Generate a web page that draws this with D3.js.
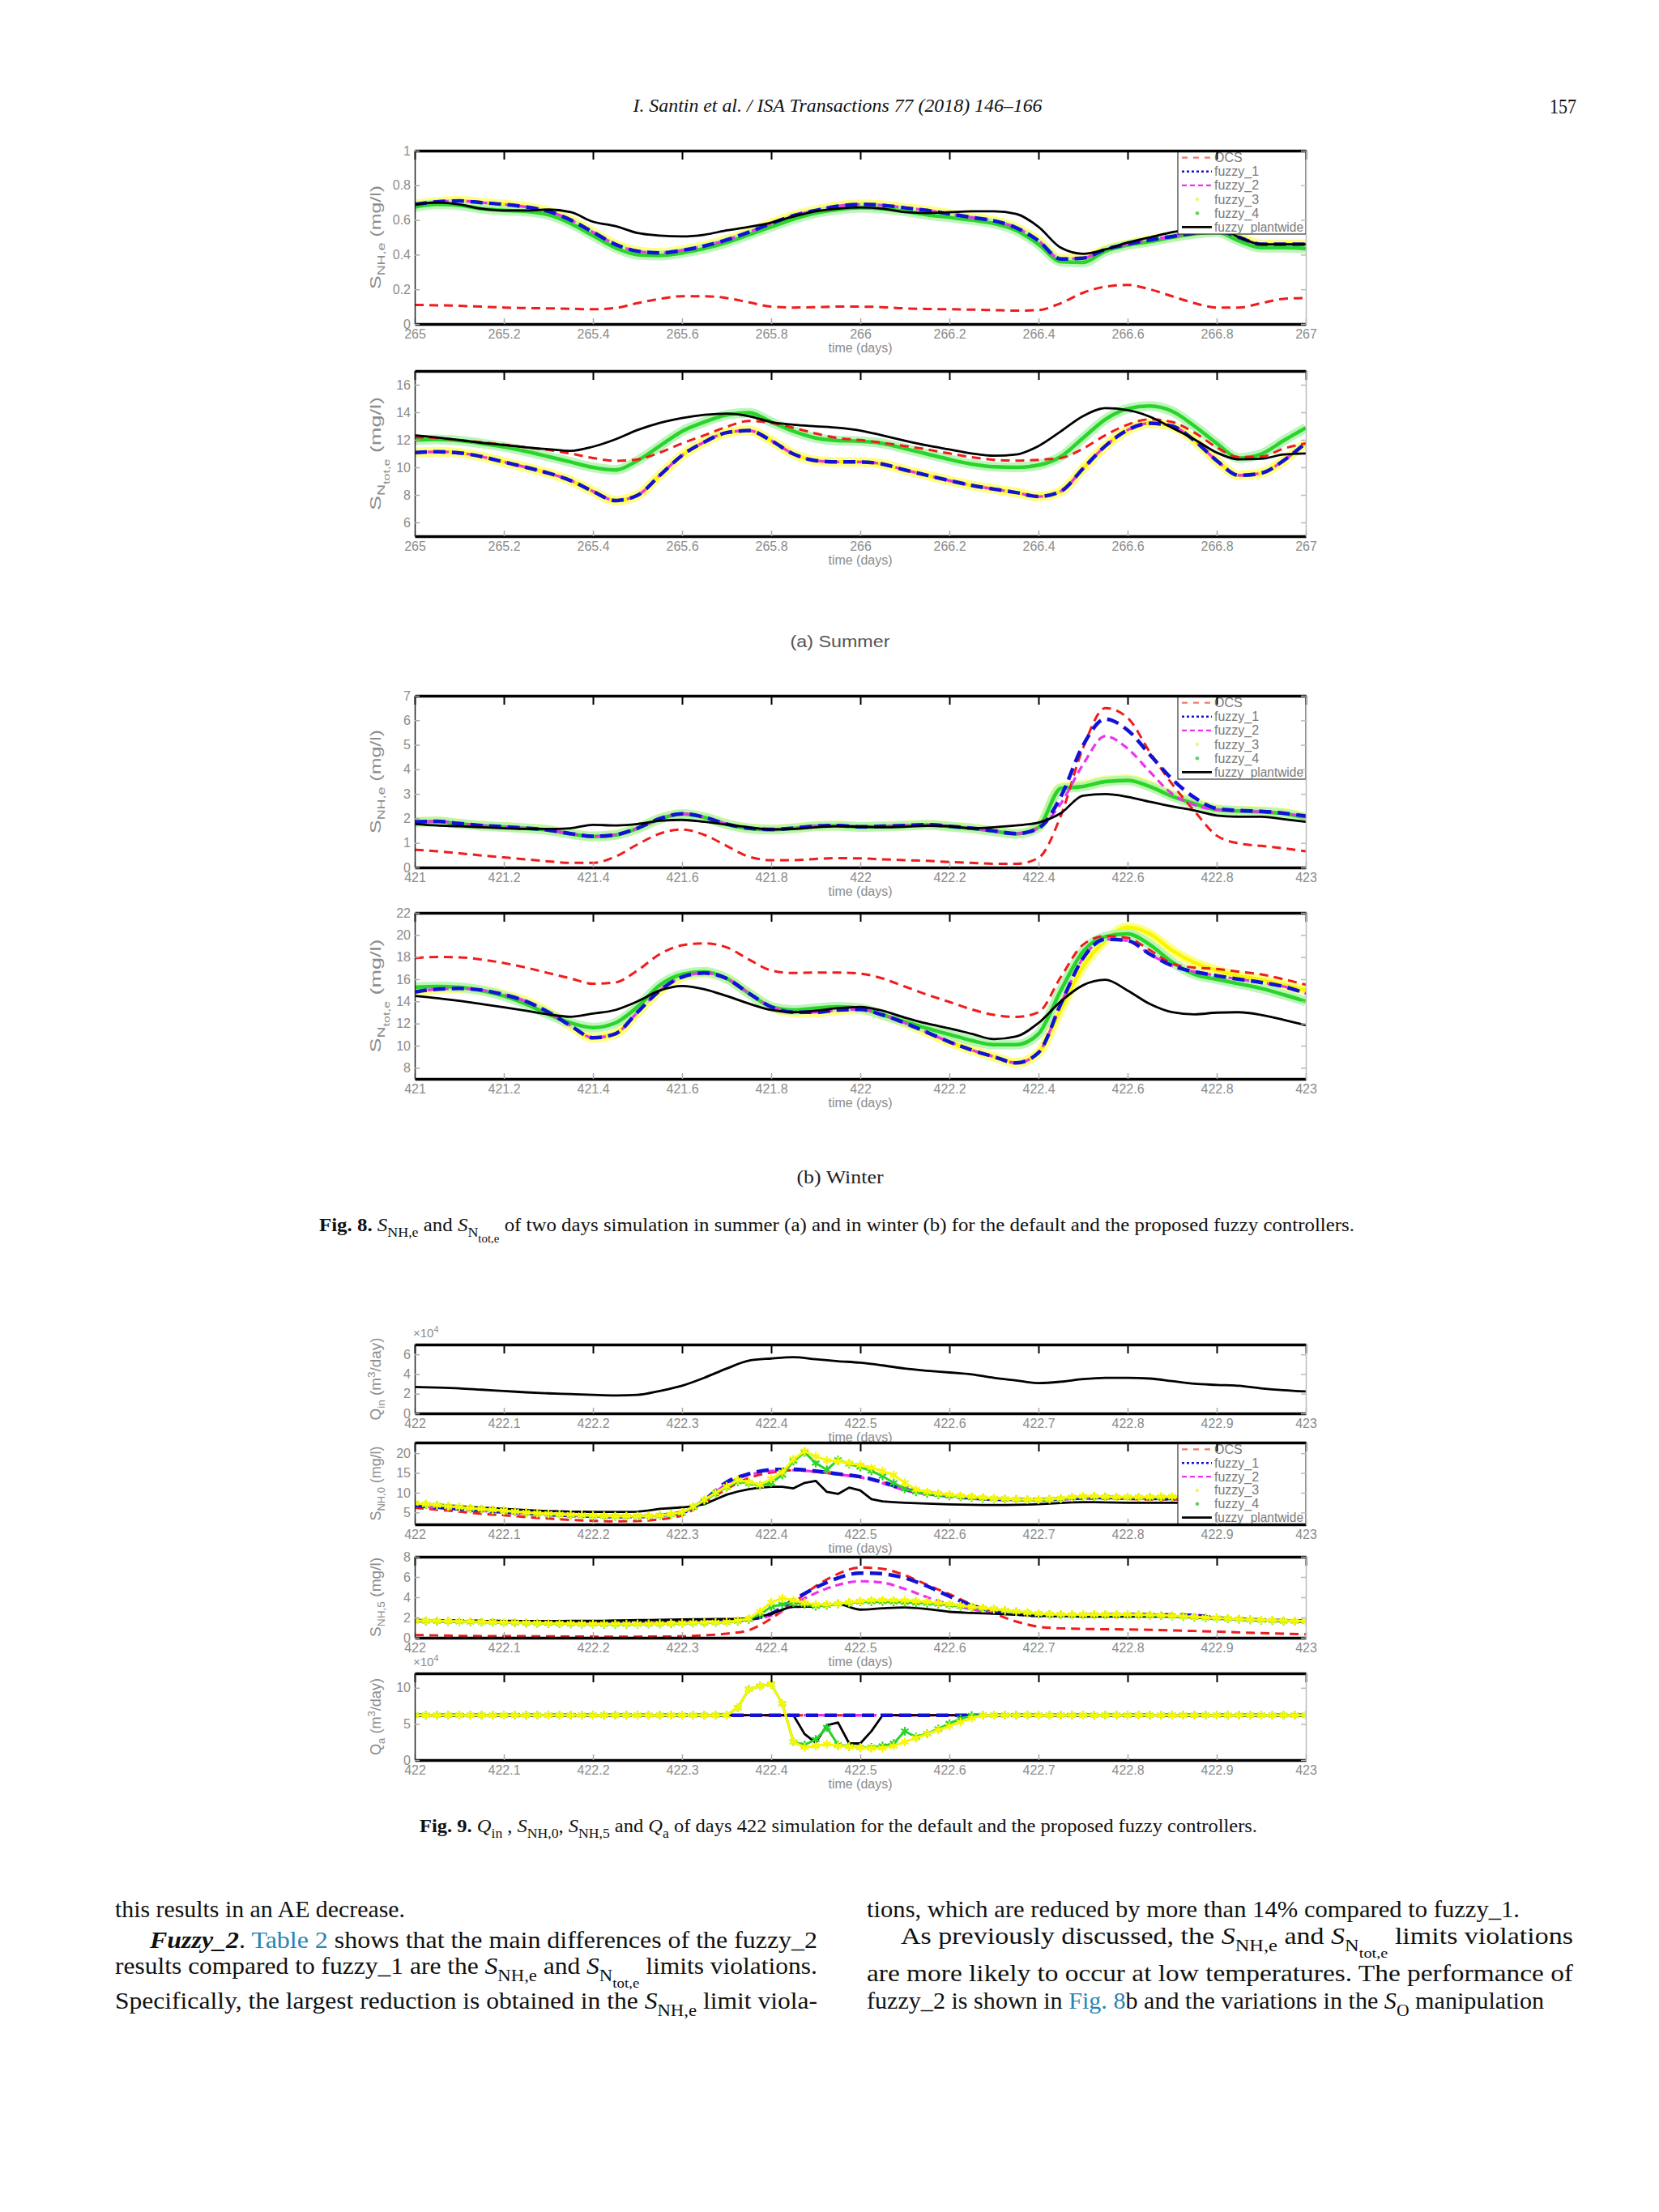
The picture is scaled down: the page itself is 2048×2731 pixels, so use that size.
<!DOCTYPE html>
<html>
<head>
<meta charset="utf-8">
<script src="https://cdn.jsdelivr.net/npm/d3@7"></script>
<style>
body { margin: 0; background: #fff; }
</style>
</head>
<body>
<svg id="page" width="2048" height="2731"></svg>
<script>
// ---------- data ----------
var legendLabels = ["OCS", "fuzzy_1", "fuzzy_2", "fuzzy_3", "fuzzy_4", "fuzzy_plantwide"];
var seriesKeys = ["ocs", "f1", "f2", "f3", "f4", "pw"];

// Fig 8 (a) summer, days 265-267
var tSum = [265,265.05,265.1,265.15,265.2,265.25,265.3,265.35,265.4,265.45,265.5,265.55,265.6,265.65,265.7,265.75,265.8,265.85,265.9,265.95,266,266.05,266.1,266.15,266.2,266.25,266.3,266.35,266.4,266.45,266.5,266.55,266.6,266.65,266.7,266.75,266.8,266.85,266.9,266.95,267];
var xTicksSum = [265,265.2,265.4,265.6,265.8,266,266.2,266.4,266.6,266.8,267];

var nhSumOcs = [0.11,0.108,0.105,0.10,0.095,0.092,0.09,0.088,0.085,0.092,0.12,0.145,0.16,0.16,0.15,0.125,0.10,0.095,0.097,0.10,0.10,0.097,0.09,0.087,0.085,0.083,0.08,0.077,0.08,0.12,0.18,0.215,0.225,0.2,0.16,0.12,0.095,0.095,0.12,0.145,0.15];
var nhSumF1 = [0.69,0.705,0.71,0.70,0.69,0.675,0.65,0.60,0.53,0.46,0.42,0.41,0.425,0.45,0.485,0.53,0.58,0.625,0.655,0.68,0.69,0.685,0.67,0.655,0.635,0.615,0.595,0.555,0.48,0.375,0.38,0.43,0.46,0.485,0.505,0.525,0.54,0.50,0.46,0.46,0.46];
var nhSumF2 = [0.69,0.705,0.71,0.70,0.69,0.675,0.65,0.60,0.53,0.46,0.42,0.41,0.425,0.45,0.485,0.53,0.58,0.625,0.655,0.68,0.69,0.685,0.67,0.655,0.635,0.615,0.595,0.555,0.48,0.375,0.38,0.43,0.46,0.485,0.505,0.525,0.54,0.50,0.46,0.46,0.46];
var nhSumF3 = [0.69,0.705,0.71,0.70,0.69,0.675,0.65,0.60,0.53,0.46,0.42,0.41,0.425,0.45,0.485,0.53,0.58,0.625,0.655,0.68,0.69,0.685,0.67,0.655,0.635,0.615,0.595,0.555,0.48,0.375,0.38,0.43,0.46,0.485,0.505,0.525,0.54,0.50,0.46,0.46,0.46];
var nhSumF4 = [0.675,0.69,0.685,0.665,0.655,0.65,0.63,0.58,0.51,0.44,0.40,0.395,0.41,0.435,0.47,0.515,0.56,0.605,0.64,0.66,0.67,0.665,0.65,0.63,0.615,0.60,0.58,0.54,0.46,0.36,0.355,0.42,0.455,0.475,0.50,0.52,0.53,0.48,0.44,0.44,0.435];
var nhSumPw = [0.69,0.70,0.69,0.665,0.655,0.655,0.66,0.645,0.59,0.565,0.525,0.51,0.505,0.515,0.54,0.56,0.585,0.62,0.65,0.665,0.672,0.665,0.645,0.64,0.645,0.65,0.65,0.635,0.56,0.44,0.405,0.43,0.47,0.50,0.53,0.55,0.56,0.50,0.46,0.46,0.46];

var ntSumOcs = [12.19,12.13,11.98,11.82,11.65,11.45,11.26,11.0,10.68,10.47,10.58,11.07,11.74,12.33,12.94,13.37,13.23,12.87,12.46,12.13,11.98,11.78,11.55,11.30,11.01,10.74,10.55,10.49,10.55,10.68,11.36,12.33,13.1,13.49,13.29,12.52,11.45,10.74,10.78,11.36,11.74];
var ntSumF1 = [11.07,11.13,11.05,10.78,10.39,10.0,9.58,9.04,8.26,7.59,7.97,9.42,10.87,11.84,12.52,12.67,11.94,10.97,10.49,10.39,10.39,10.24,9.81,9.42,9.04,8.69,8.42,8.17,7.88,8.26,9.91,11.55,12.71,13.2,13.0,11.94,10.49,9.42,9.58,10.49,11.78];
var ntSumF2 = [11.07,11.13,11.05,10.78,10.39,10.0,9.58,9.04,8.26,7.59,7.97,9.42,10.87,11.84,12.52,12.67,11.94,10.97,10.49,10.39,10.39,10.24,9.81,9.42,9.04,8.69,8.42,8.17,7.88,8.26,9.91,11.55,12.71,13.2,13.0,11.94,10.49,9.42,9.58,10.49,11.78];
var ntSumF3 = [11.07,11.13,11.05,10.78,10.39,10.0,9.58,9.04,8.26,7.59,7.97,9.42,10.87,11.84,12.52,12.67,11.94,10.97,10.49,10.39,10.39,10.24,9.81,9.42,9.04,8.69,8.42,8.17,7.88,8.26,9.91,11.55,12.71,13.2,13.0,11.94,10.49,9.42,9.58,10.49,11.78];
var ntSumF4 = [11.98,12.03,11.94,11.74,11.49,11.16,10.78,10.39,10.0,9.81,10.49,11.55,12.62,13.29,13.81,13.97,13.29,12.62,12.13,11.94,11.9,11.74,11.36,10.97,10.58,10.24,10.04,10.0,10.16,10.78,12.13,13.48,14.26,14.45,14.07,13.0,11.74,10.68,10.97,11.94,12.87];
var ntSumPw = [12.33,12.17,11.98,11.78,11.63,11.45,11.32,11.2,11.5,12.03,12.71,13.23,13.58,13.81,13.91,13.72,13.29,13.1,12.98,12.87,12.67,12.32,11.94,11.59,11.30,11.01,10.84,10.93,11.55,12.61,13.72,14.3,14.16,13.68,12.87,12.03,11.07,10.58,10.62,10.93,11.01];

// Fig 8 (b) winter, days 421-423
var tWin = [421,421.05,421.1,421.15,421.2,421.25,421.3,421.35,421.4,421.45,421.5,421.55,421.6,421.65,421.7,421.75,421.8,421.85,421.9,421.95,422,422.05,422.1,422.15,422.2,422.25,422.3,422.35,422.4,422.45,422.5,422.55,422.6,422.65,422.7,422.75,422.8,422.85,422.9,422.95,423];
var xTicksWin = [421,421.2,421.4,421.6,421.8,422,422.2,422.4,422.6,422.8,423];

var nhWinOcs = [0.72,0.66,0.58,0.49,0.41,0.33,0.25,0.19,0.19,0.44,0.94,1.38,1.55,1.33,0.88,0.44,0.30,0.30,0.35,0.38,0.37,0.33,0.30,0.27,0.22,0.19,0.15,0.15,0.39,2.10,4.87,6.5,6.1,4.7,3.4,2.3,1.3,0.98,0.88,0.78,0.66];
var nhWinF1 = [1.86,1.88,1.79,1.71,1.66,1.60,1.53,1.38,1.27,1.33,1.60,1.99,2.19,2.05,1.77,1.60,1.55,1.60,1.69,1.71,1.66,1.68,1.71,1.74,1.68,1.60,1.49,1.38,1.60,2.88,4.98,6.05,5.6,4.6,3.6,2.85,2.4,2.32,2.29,2.21,2.10];
var nhWinF2 = [1.86,1.88,1.79,1.71,1.66,1.60,1.53,1.38,1.27,1.33,1.60,1.99,2.19,2.05,1.77,1.60,1.55,1.60,1.69,1.71,1.66,1.68,1.71,1.74,1.68,1.60,1.49,1.38,1.60,2.6,4.2,5.35,4.85,3.9,3.0,2.55,2.35,2.3,2.27,2.2,2.08];
var nhWinF3 = [1.86,1.88,1.79,1.71,1.66,1.60,1.53,1.38,1.27,1.33,1.60,1.99,2.19,2.05,1.77,1.60,1.55,1.60,1.69,1.71,1.66,1.68,1.71,1.74,1.68,1.60,1.49,1.38,1.66,3.26,3.35,3.55,3.6,3.35,2.95,2.65,2.38,2.32,2.29,2.23,2.05];
var nhWinF4 = [1.85,1.87,1.78,1.70,1.65,1.59,1.52,1.37,1.26,1.32,1.59,1.98,2.18,2.04,1.76,1.59,1.54,1.59,1.68,1.70,1.65,1.67,1.70,1.73,1.67,1.59,1.48,1.37,1.64,3.22,3.3,3.5,3.55,3.3,2.9,2.6,2.35,2.3,2.27,2.2,2.02];
var nhWinPw = [1.77,1.71,1.68,1.64,1.60,1.57,1.57,1.60,1.74,1.71,1.77,1.90,1.94,1.86,1.75,1.64,1.55,1.57,1.64,1.68,1.66,1.64,1.66,1.70,1.68,1.60,1.64,1.71,1.83,2.21,2.93,2.99,2.88,2.68,2.49,2.32,2.12,2.07,2.07,1.97,1.86];

var ntWinOcs = [17.90,18.02,17.98,17.78,17.46,17.05,16.56,16.07,15.59,15.71,16.80,18.27,19.07,19.24,18.88,17.78,16.80,16.56,16.61,16.61,16.51,16.07,15.34,14.61,13.95,13.27,12.78,12.59,13.02,16.2,19.12,19.90,19.73,18.63,17.41,17.05,16.93,16.68,16.44,16.0,15.51];
var ntWinF1 = [14.85,15.10,15.17,15.02,14.61,14.0,13.02,11.80,10.71,11.07,13.02,14.98,16.2,16.56,16.07,14.73,13.51,13.02,13.02,13.22,13.27,12.78,12.05,11.20,10.34,9.61,9.0,8.44,9.37,13.76,17.9,19.61,19.49,18.27,17.22,16.68,16.32,16.0,15.71,15.34,14.73];
var ntWinF2 = [14.85,15.10,15.17,15.02,14.61,14.0,13.02,11.80,10.71,11.07,13.02,14.98,16.2,16.56,16.07,14.73,13.51,13.02,13.02,13.22,13.27,12.78,12.05,11.20,10.34,9.61,9.0,8.44,9.37,13.76,17.9,19.61,19.49,18.27,17.22,16.68,16.32,16.0,15.71,15.34,14.73];
var ntWinF3 = [14.85,15.10,15.17,15.02,14.61,14.0,13.02,11.80,10.71,11.07,13.02,14.98,16.2,16.56,16.07,14.73,13.51,13.02,13.02,13.22,13.27,12.78,12.05,11.20,10.34,9.61,9.0,8.44,9.37,13.27,17.17,19.49,20.71,20.1,18.6,17.5,16.8,16.3,15.95,15.5,15.0];
var ntWinF4 = [15.27,15.34,15.27,14.98,14.49,13.76,12.83,12.05,11.63,12.05,13.51,15.46,16.44,16.68,16.07,14.73,13.51,13.22,13.39,13.51,13.39,12.78,12.17,11.56,11.02,10.46,10.10,10.10,11.07,14.98,18.51,19.85,20.10,19.12,17.54,16.44,16.0,15.59,15.17,14.61,14.0];
var ntWinPw = [14.49,14.29,14.05,13.76,13.46,13.15,12.83,12.61,12.9,13.22,14.0,14.98,15.39,15.10,14.49,13.80,13.22,13.02,13.15,13.39,13.51,13.15,12.54,12.0,11.56,11.07,10.59,10.83,12.05,14.0,15.46,15.95,14.98,13.76,13.02,12.83,12.98,13.02,12.78,12.34,11.85];

// Fig 9, day 422 (coarse grid for smooth curves, fine grid for marker series)
var tDay = [422,422.025,422.05,422.075,422.1,422.125,422.15,422.175,422.2,422.225,422.25,422.275,422.3,422.325,422.35,422.375,422.4,422.425,422.45,422.475,422.5,422.525,422.55,422.575,422.6,422.625,422.65,422.675,422.7,422.725,422.75,422.775,422.8,422.825,422.85,422.875,422.9,422.925,422.95,422.975,423];
var tFine = [422,422.0125,422.025,422.0375,422.05,422.0625,422.075,422.0875,422.1,422.1125,422.125,422.1375,422.15,422.1625,422.175,422.1875,422.2,422.2125,422.225,422.2375,422.25,422.2625,422.275,422.2875,422.3,422.3125,422.325,422.3375,422.35,422.3625,422.375,422.3875,422.4,422.4125,422.425,422.4375,422.45,422.4625,422.475,422.4875,422.5,422.5125,422.525,422.5375,422.55,422.5625,422.575,422.5875,422.6,422.6125,422.625,422.6375,422.65,422.6625,422.675,422.6875,422.7,422.7125,422.725,422.7375,422.75,422.7625,422.775,422.7875,422.8,422.8125,422.825,422.8375,422.85,422.8625,422.875,422.8875,422.9,422.9125,422.925,422.9375,422.95,422.9625,422.975,422.9875,423];
var xTicksDay = [422,422.1,422.2,422.3,422.4,422.5,422.6,422.7,422.8,422.9,423];

var qinPw = [2.68,2.63,2.55,2.41,2.28,2.14,2.04,1.96,1.88,1.82,1.88,2.28,2.81,3.62,4.56,5.36,5.58,5.71,5.50,5.31,5.15,4.88,4.56,4.34,4.16,3.97,3.62,3.35,3.08,3.22,3.49,3.62,3.62,3.54,3.28,3.01,2.90,2.81,2.55,2.36,2.23];

var nh0Ocs = [6.19,5.7,5.22,4.66,4.31,3.82,3.47,3.12,2.92,2.78,2.85,3.26,4.31,7.45,10.93,13.72,15.12,15.68,15.26,14.63,13.93,12.68,11.28,10.24,9.40,8.84,8.49,8.28,8.14,8.28,8.49,8.49,8.42,8.3,8.28,8.2,8.2,8.15,8.15,8.15,8.14];
var nh0F1 = [6.75,6.33,5.91,5.5,5.15,4.8,4.45,4.24,4.1,3.96,3.96,4.31,5.0,8.14,12.68,14.77,15.82,15.96,15.47,14.77,14.07,12.68,10.93,9.89,9.19,8.70,8.42,8.28,8.28,8.42,8.7,8.84,8.7,8.6,8.56,8.5,8.5,8.5,8.5,8.5,8.5];
var nh0F2 = [6.6,6.2,5.8,5.4,5.05,4.7,4.4,4.2,4.05,3.95,3.95,4.3,5.0,8.0,12.2,14.5,15.5,15.7,15.3,14.6,13.9,12.4,10.6,9.6,8.95,8.5,8.25,8.15,8.15,8.3,8.55,8.7,8.6,8.5,8.45,8.4,8.4,8.4,8.4,8.4,8.4];
var nh0F3 = [7.4,7.1,6.9,6.6,6.4,6.1,5.9,5.7,5.5,5.25,5.0,4.85,4.7,4.55,4.45,4.35,4.25,4.15,4.1,4.1,4.1,4.15,4.3,4.6,5.0,6.5,8.2,10.0,11.6,13.2,12.7,12.0,13.5,15.2,18.5,20.5,19.2,18.2,18.0,17.5,17.0,16.3,15.5,14.5,12.5,10.8,10.2,9.8,9.5,9.2,9.0,8.8,8.6,8.5,8.4,8.3,8.3,8.4,8.6,8.9,9.1,9.1,9.0,8.9,8.9,8.9,8.9,9.0,9.0,9.0,9.0,8.9,8.9,8.9,8.8,8.8,8.7,8.6,8.4,8.0,7.5];
var nh0F4 = [7.3,7.0,6.8,6.5,6.3,6.0,5.8,5.6,5.4,5.15,4.9,4.75,4.6,4.45,4.35,4.25,4.15,4.05,4.0,4.0,4.0,4.05,4.2,4.5,4.9,6.3,8.0,9.8,11.4,12.8,12.4,11.8,12.5,14.5,18.0,20.2,17.5,15.8,18.3,17.3,16.5,15.5,14.2,12.5,11.0,10.2,9.8,9.5,9.2,9.0,8.8,8.6,8.5,8.4,8.3,8.2,8.2,8.3,8.5,8.8,9.0,9.0,8.9,8.8,8.8,8.8,8.8,8.8,8.9,8.9,8.9,8.8,8.8,8.8,8.7,8.7,8.6,8.5,8.3,7.9,7.4];
var nh0Pw = [7.3,7.15,7.0,6.8,6.6,6.4,6.2,6.05,5.9,5.75,5.6,5.45,5.35,5.3,5.22,5.18,5.15,5.15,5.15,5.17,5.2,5.5,5.9,6.1,6.3,6.6,7.1,8.3,9.5,10.3,10.9,11.3,11.5,11.5,11.1,12.5,13.0,10.2,9.7,11.3,10.6,8.4,7.8,7.6,7.45,7.35,7.25,7.15,7.05,7.0,6.95,6.9,6.9,6.9,6.95,7.0,7.1,7.25,7.4,7.55,7.6,7.6,7.55,7.5,7.45,7.45,7.45,7.45,7.45,7.45,7.45,7.45,7.45,7.45,7.45,7.45,7.45,7.45,7.45,7.45,7.45];

var nh5Ocs = [0.27,0.23,0.19,0.17,0.16,0.15,0.14,0.12,0.11,0.11,0.11,0.12,0.14,0.24,0.4,0.75,1.9,3.46,5.09,6.31,6.94,6.8,6.18,5.22,4.3,3.3,2.4,1.6,1.09,0.93,0.87,0.84,0.82,0.78,0.73,0.67,0.6,0.53,0.46,0.4,0.33];
var nh5F1 = [1.69,1.67,1.65,1.62,1.6,1.58,1.55,1.55,1.55,1.56,1.58,1.6,1.63,1.66,1.69,1.82,2.37,3.73,4.95,5.9,6.39,6.31,5.9,5.1,4.1,3.2,2.6,2.35,2.2,2.2,2.23,2.26,2.29,2.27,2.25,2.2,1.96,1.85,1.74,1.68,1.63];
var nh5F2 = [1.69,1.67,1.65,1.62,1.6,1.58,1.55,1.55,1.55,1.56,1.58,1.6,1.63,1.66,1.69,1.82,2.2,3.32,4.41,5.22,5.58,5.44,4.82,4.0,3.3,2.8,2.5,2.3,2.18,2.2,2.23,2.26,2.29,2.27,2.25,2.2,1.96,1.85,1.74,1.68,1.63];
var nh5F3 = [1.69,1.68,1.66,1.64,1.62,1.6,1.57,1.55,1.52,1.5,1.48,1.46,1.44,1.42,1.4,1.38,1.37,1.36,1.36,1.36,1.37,1.38,1.4,1.42,1.45,1.48,1.5,1.52,1.55,1.7,1.9,2.6,3.5,3.9,3.7,3.45,3.27,3.3,3.37,3.5,3.62,3.7,3.72,3.7,3.68,3.62,3.55,3.45,3.32,3.18,3.05,2.95,2.85,2.72,2.6,2.48,2.38,2.33,2.3,2.29,2.29,2.29,2.29,2.29,2.29,2.27,2.25,2.22,2.18,2.12,2.06,2.0,1.96,1.9,1.85,1.8,1.75,1.72,1.68,1.65,1.63];
var nh5F4 = [1.66,1.65,1.63,1.61,1.59,1.57,1.54,1.52,1.49,1.47,1.45,1.43,1.41,1.39,1.37,1.35,1.34,1.33,1.33,1.33,1.34,1.35,1.37,1.39,1.42,1.45,1.47,1.5,1.53,1.65,1.8,2.3,3.05,3.3,3.46,3.3,3.1,3.2,3.35,3.45,3.54,3.56,3.56,3.54,3.5,3.45,3.4,3.32,3.22,3.1,3.0,2.9,2.8,2.68,2.56,2.45,2.35,2.3,2.27,2.26,2.26,2.26,2.26,2.26,2.26,2.24,2.22,2.19,2.15,2.09,2.03,1.97,1.93,1.87,1.82,1.77,1.72,1.69,1.65,1.62,1.6];
var nh5Pw = [1.63,1.63,1.63,1.64,1.64,1.65,1.65,1.66,1.66,1.7,1.74,1.77,1.8,1.83,1.85,1.9,2.37,3.05,3.1,3.32,2.78,2.91,2.99,2.83,2.56,2.45,2.37,2.27,2.18,2.14,2.1,2.1,2.1,2.1,2.1,2.0,1.9,1.82,1.74,1.68,1.63];

var qaOcs = [6.2,6.2,6.2,6.2,6.2,6.2,6.2,6.2,6.2,6.2,6.2,6.2,6.2,6.2,6.2,6.2,6.2,6.2,6.2,6.2,6.2,6.2,6.2,6.2,6.2,6.2,6.2,6.2,6.2,6.2,6.2,6.2,6.2,6.2,6.2,6.2,6.2,6.2,6.2,6.2,6.2];
var qaF1 = [6.2,6.2,6.2,6.2,6.2,6.2,6.2,6.2,6.2,6.2,6.2,6.2,6.2,6.2,6.2,6.2,6.2,6.2,6.2,6.2,6.2,6.2,6.2,6.2,6.2,6.2,6.2,6.2,6.2,6.2,6.2,6.2,6.2,6.2,6.2,6.2,6.2,6.2,6.2,6.2,6.2];
var qaF2 = [6.2,6.2,6.2,6.2,6.2,6.2,6.2,6.2,6.2,6.2,6.2,6.2,6.2,6.2,6.2,6.2,6.2,6.2,6.2,6.2,6.2,6.2,6.2,6.2,6.2,6.2,6.2,6.2,6.2,6.2,6.2,6.2,6.2,6.2,6.2,6.2,6.2,6.2,6.2,6.2,6.2];
var qaF3 = [6.2,6.2,6.2,6.2,6.2,6.2,6.2,6.2,6.2,6.2,6.2,6.2,6.2,6.2,6.2,6.2,6.2,6.2,6.2,6.2,6.2,6.2,6.2,6.2,6.2,6.2,6.2,6.2,6.2,7.25,9.8,10.25,10.5,7.8,2.5,1.75,1.95,2.2,1.95,1.85,1.7,1.65,1.65,1.95,2.5,3.05,3.6,4.15,4.7,5.25,5.8,6.2,6.2,6.2,6.2,6.2,6.2,6.2,6.2,6.2,6.2,6.2,6.2,6.2,6.2,6.2,6.2,6.2,6.2,6.2,6.2,6.2,6.2,6.2,6.2,6.2,6.2,6.2,6.2,6.2,6.2];
var qaF4 = [6.2,6.2,6.2,6.2,6.2,6.2,6.2,6.2,6.2,6.2,6.2,6.2,6.2,6.2,6.2,6.2,6.2,6.2,6.2,6.2,6.2,6.2,6.2,6.2,6.2,6.2,6.2,6.2,6.2,7.25,9.8,10.25,10.5,7.8,2.5,2.1,2.85,4.5,2.1,1.9,1.75,1.75,1.95,2.3,4.0,3.2,3.65,4.3,5.05,5.7,6.15,6.2,6.2,6.2,6.2,6.2,6.2,6.2,6.2,6.2,6.2,6.2,6.2,6.2,6.2,6.2,6.2,6.2,6.2,6.2,6.2,6.2,6.2,6.2,6.2,6.2,6.2,6.2,6.2,6.2,6.2];
var qaPw = [6.2,6.2,6.2,6.2,6.2,6.2,6.2,6.2,6.2,6.2,6.2,6.2,6.2,6.2,6.2,6.2,6.2,6.2,6.2,6.2,6.2,6.2,6.2,6.2,6.2,6.2,6.2,6.2,6.2,6.2,6.2,6.2,6.2,6.2,6.2,3.6,2.4,4.8,5.2,2.3,2.3,4.0,6.2,6.2,6.2,6.2,6.2,6.2,6.2,6.2,6.2,6.2,6.2,6.2,6.2,6.2,6.2,6.2,6.2,6.2,6.2,6.2,6.2,6.2,6.2,6.2,6.2,6.2,6.2,6.2,6.2,6.2,6.2,6.2,6.2,6.2,6.2,6.2,6.2,6.2,6.2];

// ---------- drawing ----------
var svg = d3.select("#page");
svg.append("rect").attr("width", 2048).attr("height", 2731).attr("fill", "#fff");
var defs = svg.append("defs");

var L = 512, R = 1612, LEG_X = 1454;
var GRAY = "#8c8c8c";
var SANS = "Liberation Sans, Arial, sans-serif";
var SERIF = "Liberation Serif, Times New Roman, serif";

var styles = {
  ocs: {color: "#f01c1c", width: 3, dash: "11,7"},
  f1:  {color: "#1212d6", width: 4.5, dash: "15,8"},
  f2:  {color: "#f030f0", width: 3.2, dash: "10,6"},
  f3:  {color: "#f7f700", halo: "#ffff70", width: 3},
  f4:  {color: "#2ad42a", halo: "#b0f5b0", width: 3},
  pw:  {color: "#000", width: 2.8}
};
var star = d3.symbol().type(d3.symbolAsterisk || d3.symbolCross).size(80);

function addParts(sel, parts, size) {
  var level = 0;
  parts.forEach(function(pt) {
    var target = pt.sub ? pt.sub * size * 0.3 : (pt.sup ? -size * 0.4 : 0);
    var ts = sel.append("tspan").attr("dy", target - level).text(pt.t);
    level = target;
    if (pt.sub || pt.sup) ts.attr("font-size", size * (pt.sub == 2 ? 0.6 : 0.72));
    if (pt.i) ts.attr("font-style", "italic");
    if (pt.b) ts.attr("font-weight", "bold");
    if (pt.c) ts.attr("fill", pt.c);
  });
}

function drawSeries(plot, x, y, s) {
  var st = styles[s.key];
  var pts = s.v.map(function(v, i) { return [s.t[i], v]; });
  var line = d3.line()
    .x(function(d) { return x(d[0]); })
    .y(function(d) { return y(d[1]); })
    .curve(s.sharp ? d3.curveLinear : d3.curveMonotoneX);
  if (s.band) {
    plot.append("path").attr("d", line(pts)).attr("fill", "none")
      .attr("stroke", st.halo).attr("stroke-width", 12)
      .attr("stroke-linejoin", "round").attr("opacity", 0.85);
  }
  plot.append("path").attr("d", line(pts)).attr("fill", "none")
    .attr("stroke", st.color)
    .attr("stroke-width", s.band ? 4.5 : st.width)
    .attr("stroke-dasharray", st.dash || null)
    .attr("stroke-linejoin", "round");
  if (s.markers) {
    plot.selectAll(null).data(pts).enter().append("path")
      .attr("d", star)
      .attr("transform", function(d) { return "translate(" + x(d[0]) + "," + y(d[1]) + ")"; })
      .attr("fill", "none").attr("stroke", st.color).attr("stroke-width", 2.2);
  }
}

function drawLegend(top, h) {
  var g = svg.append("g");
  g.append("rect").attr("x", LEG_X).attr("y", top).attr("width", R - LEG_X).attr("height", h)
    .attr("fill", "#fff").attr("stroke", "#333").attr("stroke-width", 1.2);
  var step = h / 6;
  seriesKeys.forEach(function(k, i) {
    var cy = top + step * (i + 0.5);
    var st = styles[k];
    if (k == "f3" || k == "f4") {
      g.append("path").attr("d", d3.symbol().type(d3.symbolCircle).size(16))
        .attr("transform", "translate(" + (LEG_X + 24) + "," + cy + ")")
        .attr("fill", k == "f3" ? "#f3f37a" : "#62cf62");
    } else {
      g.append("line").attr("x1", LEG_X + 5).attr("x2", LEG_X + 42).attr("y1", cy).attr("y2", cy)
        .attr("stroke", k == "ocs" ? "#f07a6a" : st.color)
        .attr("stroke-width", k == "pw" ? 2.6 : 2.3)
        .attr("stroke-dasharray", k == "ocs" ? "7,7" : k == "f1" ? "3,3" : k == "f2" ? "6,4" : null);
    }
    g.append("text").attr("x", LEG_X + 45).attr("y", cy + 5.5)
      .attr("font-family", SANS).attr("font-size", 16).attr("fill", "#7a7a7a")
      .attr("textLength", k == "pw" ? 110 : null).attr("lengthAdjust", "spacingAndGlyphs")
      .text(legendLabels[i]);
  });
}

function drawPanel(p) {
  var x = d3.scaleLinear().domain(p.xDomain).range([L, R]);
  var y = d3.scaleLinear().domain(p.yDomain).range([p.bottom, p.top]);
  defs.append("clipPath").attr("id", "clip-" + p.id).append("rect")
    .attr("x", L).attr("y", p.top).attr("width", R - L).attr("height", p.bottom - p.top);
  var plot = svg.append("g").attr("clip-path", "url(#clip-" + p.id + ")");
  p.series.forEach(function(s) { drawSeries(plot, x, y, s); });
  if (p.legend) drawLegend(p.top, Math.min(103, p.bottom - p.top));

  // bottom axis with labels
  var bx = svg.append("g").attr("transform", "translate(0," + p.bottom + ")")
    .call(d3.axisBottom(x).tickValues(p.xTicks).tickFormat(function(d) { return String(d); })
      .tickSizeInner(-7).tickSizeOuter(0).tickPadding(7));
  bx.select(".domain").attr("stroke", "#000").attr("stroke-width", 3.5);
  bx.selectAll(".tick line").attr("stroke", "#aaa").attr("stroke-width", 1.5);
  bx.selectAll(".tick text").attr("fill", GRAY).attr("font-size", 16).attr("font-family", SANS);

  // top axis, ticks only
  var tx = svg.append("g").attr("transform", "translate(0," + p.top + ")")
    .call(d3.axisTop(x).tickValues(p.xTicks).tickFormat("").tickSizeInner(-11).tickSizeOuter(0));
  tx.select(".domain").attr("stroke", "#000").attr("stroke-width", 3.5);
  tx.selectAll(".tick line").attr("stroke", "#000").attr("stroke-width", 2);

  // left axis with labels
  var ly = svg.append("g").attr("transform", "translate(" + L + ",0)")
    .call(d3.axisLeft(y).tickValues(p.yTicks).tickFormat(function(d) { return String(d); })
      .tickSizeInner(-6).tickSizeOuter(0).tickPadding(5));
  ly.select(".domain").attr("stroke", "#222").attr("stroke-width", 1.5);
  ly.selectAll(".tick line").attr("stroke", "#aaa").attr("stroke-width", 1.5);
  ly.selectAll(".tick text").attr("fill", GRAY).attr("font-size", 16).attr("font-family", SANS);

  // right axis, ticks only
  var ry = svg.append("g").attr("transform", "translate(" + R + ",0)")
    .call(d3.axisRight(y).tickValues(p.yTicks).tickFormat("").tickSizeInner(-6).tickSizeOuter(0));
  ry.select(".domain").attr("stroke", "#bbb").attr("stroke-width", 1.5);
  ry.selectAll(".tick line").attr("stroke", "#bbb").attr("stroke-width", 1.5);

  // axis titles
  svg.append("text").attr("x", (L + R) / 2).attr("y", p.bottom + 35)
    .attr("text-anchor", "middle").attr("font-family", SANS).attr("font-size", 16)
    .attr("fill", GRAY).text("time (days)");
  var yl = svg.append("text")
    .attr("transform", "translate(" + 470 + "," + ((p.top + p.bottom) / 2) + ") rotate(-90)")
    .attr("text-anchor", "middle").attr("font-family", SANS).attr("font-size", 18).attr("fill", GRAY)
    .attr("textLength", p.ylen).attr("lengthAdjust", "spacingAndGlyphs");
  addParts(yl, p.ylabel, 18);
  if (p.exponent) {
    var ex = svg.append("text").attr("x", L - 2).attr("y", p.top - 9)
      .attr("font-family", SANS).attr("font-size", 15).attr("fill", GRAY);
    addParts(ex, [{t: "\u00d710"}, {t: "4", sup: 1}], 15);
  }
}

var labNHe = [{t: "S"}, {t: "NH,e", sub: 1}, {t: " (mg/l)"}];
var labNte = [{t: "S"}, {t: "N", sub: 1}, {t: "tot,e", sub: 2}, {t: " (mg/l)"}];

function fig8(t, ocs, f1, f2, f3, f4, pw) {
  return [
    {key: "f3", t: t, v: f3, band: true},
    {key: "f4", t: t, v: f4, band: true},
    {key: "ocs", t: t, v: ocs},
    {key: "f2", t: t, v: f2},
    {key: "f1", t: t, v: f1},
    {key: "pw", t: t, v: pw}
  ];
}

var panels = [
  {id: "a1", top: 186, bottom: 400, xDomain: [265, 267], xTicks: xTicksSum, yDomain: [0, 1],
   yTicks: [0, 0.2, 0.4, 0.6, 0.8, 1], ylabel: labNHe, ylen: 128, legend: true,
   series: fig8(tSum, nhSumOcs, nhSumF1, nhSumF2, nhSumF3, nhSumF4, nhSumPw)},
  {id: "a2", top: 458, bottom: 662, xDomain: [265, 267], xTicks: xTicksSum, yDomain: [5, 17],
   yTicks: [6, 8, 10, 12, 14, 16], ylabel: labNte, ylen: 140,
   series: fig8(tSum, ntSumOcs, ntSumF1, ntSumF2, ntSumF3, ntSumF4, ntSumPw)},
  {id: "b1", top: 859, bottom: 1071, xDomain: [421, 423], xTicks: xTicksWin, yDomain: [0, 7],
   yTicks: [0, 1, 2, 3, 4, 5, 6, 7], ylabel: labNHe, ylen: 128, legend: true,
   series: fig8(tWin, nhWinOcs, nhWinF1, nhWinF2, nhWinF3, nhWinF4, nhWinPw)},
  {id: "b2", top: 1127, bottom: 1332, xDomain: [421, 423], xTicks: xTicksWin, yDomain: [7, 22],
   yTicks: [8, 10, 12, 14, 16, 18, 20, 22], ylabel: labNte, ylen: 140,
   series: fig8(tWin, ntWinOcs, ntWinF1, ntWinF2, ntWinF3, ntWinF4, ntWinPw)},
  {id: "c1", top: 1660, bottom: 1745, xDomain: [422, 423], xTicks: xTicksDay, yDomain: [0, 7],
   yTicks: [0, 2, 4, 6], exponent: true, ylen: 102,
   ylabel: [{t: "Q"}, {t: "in", sub: 1}, {t: " (m"}, {t: "3", sup: 1}, {t: "/day)"}],
   series: [{key: "pw", t: tDay, v: qinPw}]},
  {id: "c2", top: 1781, bottom: 1882, xDomain: [422, 423], xTicks: xTicksDay, yDomain: [2, 22.7],
   yTicks: [5, 10, 15, 20], legend: true, ylen: 92,
   ylabel: [{t: "S"}, {t: "NH,0", sub: 1}, {t: " (mg/l)"}],
   series: [
     {key: "ocs", t: tDay, v: nh0Ocs}, {key: "f2", t: tDay, v: nh0F2}, {key: "f1", t: tDay, v: nh0F1},
     {key: "pw", t: tFine, v: nh0Pw, sharp: true},
     {key: "f4", t: tFine, v: nh0F4, sharp: true, markers: true},
     {key: "f3", t: tFine, v: nh0F3, sharp: true, markers: true}]},
  {id: "c3", top: 1922, bottom: 2022, xDomain: [422, 423], xTicks: xTicksDay, yDomain: [0, 8],
   yTicks: [0, 2, 4, 6, 8], ylen: 98,
   ylabel: [{t: "S"}, {t: "NH,5", sub: 1}, {t: " (mg/l)"}],
   series: [
     {key: "ocs", t: tDay, v: nh5Ocs}, {key: "f2", t: tDay, v: nh5F2}, {key: "f1", t: tDay, v: nh5F1},
     {key: "pw", t: tDay, v: nh5Pw},
     {key: "f4", t: tFine, v: nh5F4, sharp: true, markers: true},
     {key: "f3", t: tFine, v: nh5F3, sharp: true, markers: true}]},
  {id: "c4", top: 2066, bottom: 2173, xDomain: [422, 423], xTicks: xTicksDay, yDomain: [0, 12],
   yTicks: [0, 5, 10], exponent: true, ylen: 95,
   ylabel: [{t: "Q"}, {t: "a", sub: 1}, {t: " (m"}, {t: "3", sup: 1}, {t: "/day)"}],
   series: [
     {key: "ocs", t: tDay, v: qaOcs}, {key: "f2", t: tDay, v: qaF2},
     {key: "pw", t: tFine, v: qaPw, sharp: true},
     {key: "f1", t: tDay, v: qaF1},
     {key: "f4", t: tFine, v: qaF4, sharp: true, markers: true},
     {key: "f3", t: tFine, v: qaF3, sharp: true, markers: true}]}
];
panels.forEach(drawPanel);

// ---------- page text ----------
function pageText(x, y, parts, opts) {
  var el = svg.append("text").attr("x", x).attr("y", y)
    .attr("font-family", opts.family || SERIF).attr("font-size", opts.size)
    .attr("fill", opts.fill || "#111");
  if (opts.anchor) el.attr("text-anchor", opts.anchor);
  if (opts.italic) el.attr("font-style", "italic");
  if (opts.len) el.attr("textLength", opts.len).attr("lengthAdjust", opts.adjust || "spacingAndGlyphs");
  addParts(el, parts, opts.size);
  return el;
}

pageText(1034, 138, [{t: "I. Santin et al. / ISA Transactions 77 (2018) 146\u2013166"}],
  {size: 24, italic: true, anchor: "middle", len: 505});
pageText(1946, 140, [{t: "157"}], {size: 25, anchor: "end", len: 33});

pageText(1037, 799, [{t: "(a)  Summer"}], {size: 21, family: SANS, fill: "#555", anchor: "middle", len: 123});
pageText(1037, 1461, [{t: "(b)  Winter"}], {size: 23, fill: "#222", anchor: "middle", len: 107});

var sNHe = [{t: "S", i: 1}, {t: "NH,e", sub: 1}];
var sNte = [{t: "S", i: 1}, {t: "N", sub: 1}, {t: "tot,e", sub: 2}];
var BLUE = "#2a84ae";

pageText(394, 1520, [{t: "Fig. 8. ", b: 1}].concat(sNHe, [{t: "  and "}], sNte,
  [{t: "  of two days simulation in summer  (a) and in winter (b) for the default and the proposed fuzzy controllers."}]),
  {size: 23, len: 1278});

pageText(518, 2262, [{t: "Fig. 9. ", b: 1}, {t: "Q", i: 1}, {t: "in", sub: 1}, {t: " , "}, {t: "S", i: 1}, {t: "NH,0", sub: 1},
  {t: ", "}, {t: "S", i: 1}, {t: "NH,5", sub: 1}, {t: "  and "}, {t: "Q", i: 1}, {t: "a", sub: 1},
  {t: "  of days 422 simulation for the default and the proposed fuzzy controllers."}],
  {size: 23, len: 1034});

// body text, two columns
pageText(142, 2367, [{t: "this results in an AE decrease."}], {size: 29, len: 358});
pageText(185, 2405, [{t: "Fuzzy_2", b: 1, i: 1}, {t: ". "}, {t: "Table 2", c: BLUE},
  {t: " shows that the main differences of the fuzzy_2"}], {size: 29, len: 824});
pageText(142, 2437, [{t: "results compared to fuzzy_1 are the "}].concat(sNHe, [{t: " and "}], sNte,
  [{t: " limits violations."}]), {size: 29, len: 867});
pageText(142, 2480, [{t: "Specifically,  the largest  reduction  is obtained  in the "}].concat(sNHe,
  [{t: "  limit viola-"}]), {size: 29, len: 867});

pageText(1070, 2367, [{t: "tions, which are reduced by more than 14% compared to fuzzy_1."}], {size: 29, len: 806});
pageText(1112, 2400, [{t: "As previously discussed, the "}].concat(sNHe, [{t: " and "}], sNte,
  [{t: " limits violations"}]), {size: 29, len: 830});
pageText(1070, 2446, [{t: "are more likely to occur at low temperatures. The performance of"}], {size: 29, len: 872});
pageText(1070, 2480, [{t: "fuzzy_2 is shown in "}, {t: "Fig. 8", c: BLUE}, {t: "b and the variations in the "},
  {t: "S", i: 1}, {t: "O", sub: 1}, {t: " manipulation"}], {size: 29, len: 836});
</script>
</body>
</html>
